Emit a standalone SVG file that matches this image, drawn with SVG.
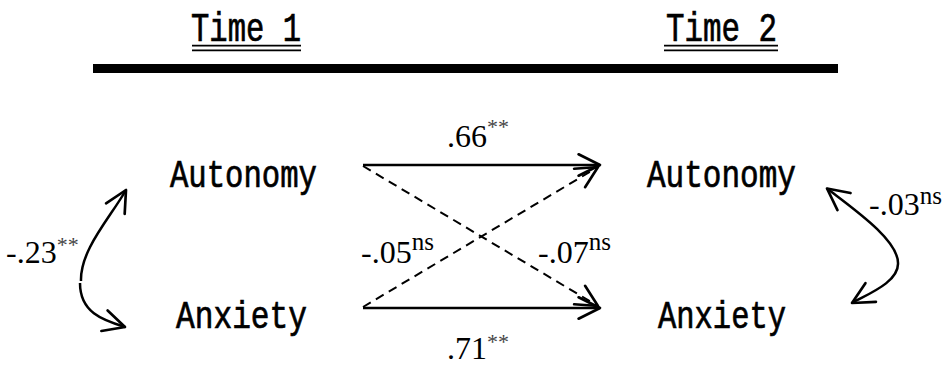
<svg xmlns="http://www.w3.org/2000/svg" width="943" height="367" viewBox="0 0 943 367">
<style>
  .node { font-family: "Liberation Mono", "DejaVu Sans Mono", monospace; font-size: 38px; fill: #000; stroke: #000; stroke-width: 0.7; }
  .head { font-family: "Liberation Mono", "DejaVu Sans Mono", monospace; font-size: 40px; fill: #000; stroke: #000; stroke-width: 0.7; }
  .num { font-family: "Liberation Serif", "Times New Roman", serif; font-size: 32px; fill: #000; }
  .ns { font-size: 25px; }
  .ast { font-size: 22px; fill: #444; }
  .edge { fill: none; stroke: #000; stroke-width: 2.5; }
  .dash { fill: none; stroke: #000; stroke-width: 2; stroke-dasharray: 9 6; }
  .uline { stroke: #000; stroke-width: 1.8; }
</style>
<defs>
  <marker id="arr" markerUnits="userSpaceOnUse" markerWidth="30" markerHeight="30" viewBox="-24 -14 28 28" refX="0" refY="0" orient="auto-start-reverse" overflow="visible">
    <path d="M-20,-10 L0,0 L-20,10" fill="none" stroke="#000" stroke-width="2.5" stroke-linecap="round" stroke-linejoin="round" stroke-dasharray="none"/>
  </marker>
</defs>
<rect x="0" y="0" width="943" height="367" fill="#fff"/>

<g id="header">
  <rect x="93" y="64" width="745" height="9" fill="#000"/>
</g>
<g id="time1">
  <text class="head" x="191" y="41" textLength="110" lengthAdjust="spacingAndGlyphs">Time 1</text>
  <line class="uline" x1="192" y1="45.7" x2="301" y2="45.7"/>
  <line class="uline" x1="192" y1="50.3" x2="301" y2="50.3"/>
</g>
<g id="time2">
  <text class="head" x="666" y="41" textLength="111" lengthAdjust="spacingAndGlyphs">Time 2</text>
  <line class="uline" x1="664" y1="45.7" x2="778" y2="45.7"/>
  <line class="uline" x1="664" y1="50.3" x2="778" y2="50.3"/>
</g>

<g id="autonomy1">
  <text class="node" x="170" y="187" textLength="147" lengthAdjust="spacingAndGlyphs">Autonomy</text>
</g>
<g id="anxiety1">
  <text class="node" x="176" y="328" textLength="131" lengthAdjust="spacingAndGlyphs">Anxiety</text>
</g>
<g id="autonomy2">
  <text class="node" x="647" y="187" textLength="149" lengthAdjust="spacingAndGlyphs">Autonomy</text>
</g>
<g id="anxiety2">
  <text class="node" x="658" y="328" textLength="128" lengthAdjust="spacingAndGlyphs">Anxiety</text>
</g>

<g id="connectors">
  <path class="edge" d="M363,165 L600,165" marker-end="url(#arr)"/>
  <path class="edge" d="M363,308 L600,308" marker-end="url(#arr)"/>
  <path class="dash" d="M363,166 L598,306" marker-end="url(#arr)"/>
  <path class="dash" d="M363,307 L598,167" marker-end="url(#arr)"/>
  <path class="edge" d="M81,281 C80,250 110,218 126,190" marker-end="url(#arr)"/>
  <path class="edge" d="M80,283 C80,312 102,320 125,327" marker-end="url(#arr)"/>
  <path class="edge" d="M827,188.5 C855,210 898,240 898,263 C899,282 868,294 852,303" marker-start="url(#arr)" marker-end="url(#arr)"/>
</g>

<g id="labels">
  <text class="num" x="447" y="147">.66<tspan class="ast" dy="-13.5">**</tspan></text>
  <text class="num" x="447" y="359">.71<tspan class="ast" dy="-10">**</tspan></text>
  <text class="num" x="361" y="263">-.05<tspan class="ns" dy="-13">ns</tspan></text>
  <text class="num" x="538" y="263">-.07<tspan class="ns" dy="-13">ns</tspan></text>
  <text class="num" x="6" y="263">-.23<tspan class="ast" dy="-11.5">**</tspan></text>
  <text class="num" x="869" y="215">-.03<tspan class="ns" dy="-11.5">ns</tspan></text>
</g>
</svg>
